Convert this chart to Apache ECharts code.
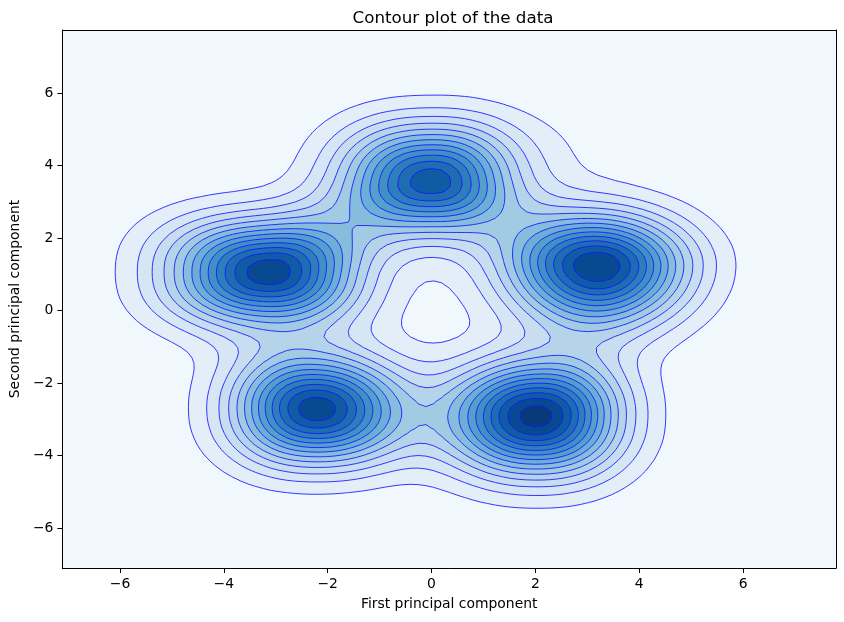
<!DOCTYPE html>
<html>
<head>
<meta charset="utf-8">
<title>Contour plot of the data</title>
<script src="https://cdn.jsdelivr.net/npm/echarts@6/dist/echarts.min.js"></script>
<style>
  html, body { margin: 0; padding: 0; background: #fff; }
  #main { width: 844px; height: 622px; }
</style>
</head>
<body>
<div id="main"></div>
<script>
// density bumps: centre, peak (in contour-level units),
// spread towards -x, +x, -y, +y, and how square the rings are
// order: left, top, right, bottom-left, bottom-right, small top-right shoulder
var clusterX = [-3.17, 0.0, 3.25, -2.25, 2.05, 2.4];
var clusterY = [1.07, 3.62, 1.25, -2.75, -2.95, 4.4];
var clusterPeak = [12.95, 11.95, 13.2, 12.95, 13.85, 0.6];
var spreadLeft = [1.29, 1.17, 1.23, 1.07, 1.12, 1.0];
var spreadRight = [1.2, 1.04, 1.15, 1.12, 1.07, 1.0];
var spreadDown = [0.97, 0.98, 1.12, 1.02, 1.09, 1.0];
var spreadUp = [0.97, 1.04, 0.97, 1.0, 1.02, 1.0];
var squareness = [2.4, 2.3, 2.0, 2.2, 2.2, 2.0];
// faint ring joining the five groups round the empty middle
var ringRadius = 3.0, ringWidth = 0.8, ringHeight = 0.9;

var contourLevels = [1, 2, 3, 4, 5, 6, 7, 8, 9, 10, 11, 12, 13, 14];
var xRange = [-7.11, 7.79];
var yRange = [-7.10, 7.74];
var xTicks = [-6, -4, -2, 0, 2, 4, 6];
var yTicks = [-6, -4, -2, 0, 2, 4, 6];

var FONT = 'DejaVu Sans';

function density(x, y) {
    var r = Math.sqrt(x * x + y * y) - ringRadius;
    var s = ringHeight * Math.exp(-0.5 * r * r / (ringWidth * ringWidth));
    for (var k = 0; k < clusterX.length; k++) {
        var dx = x - clusterX[k], dy = y - clusterY[k];
        var u = Math.abs(dx) / (dx < 0 ? spreadLeft[k] : spreadRight[k]);
        var v = Math.abs(dy) / (dy < 0 ? spreadDown[k] : spreadUp[k]);
        var q = squareness[k];
        var d = Math.pow(Math.pow(u, q) + Math.pow(v, q), 2 / q);
        s += clusterPeak[k] * Math.exp(-0.5 * d);
    }
    return s;
}

// Blues colormap, one colour per band (band k lies between level k and k+1)
var bluesStops = ['#f7fbff', '#deebf7', '#c6dbef', '#9ecae1', '#6baed6', '#4292c6', '#2171b5', '#08519c', '#08306b'];
function blues(t) {
    t = Math.max(0, Math.min(1, t));
    var p = t * (bluesStops.length - 1);
    var i = Math.min(Math.floor(p), bluesStops.length - 2);
    var f = p - i;
    var a = echarts.color.parse(bluesStops[i]), b = echarts.color.parse(bluesStops[i + 1]);
    return 'rgb(' + [0, 1, 2].map(function (c) { return Math.round(a[c] + (b[c] - a[c]) * f); }).join(',') + ')';
}
function bandColor(k) {
    return blues((k + 0.5) / (contourLevels.length + 1));
}

// sample the field
var NX = 101, NY = 101;
var gx = [], gy = [], field = [];
for (var i = 0; i < NX; i++) gx.push(xRange[0] + (xRange[1] - xRange[0]) * i / (NX - 1));
for (var j = 0; j < NY; j++) gy.push(yRange[0] + (yRange[1] - yRange[0]) * j / (NY - 1));
for (j = 0; j < NY; j++) for (i = 0; i < NX; i++) field[j * NX + i] = density(gx[i], gy[j]);

var CASES = {
    1: [[3, 0]], 2: [[0, 1]], 3: [[3, 1]], 4: [[1, 2]], 6: [[0, 2]], 7: [[3, 2]],
    8: [[2, 3]], 9: [[0, 2]], 11: [[1, 2]], 12: [[1, 3]], 13: [[0, 1]], 14: [[3, 0]]
};

// marching squares -> closed loops, high side kept on the left
function traceLevel(L) {
    var pts = {}, adj = {}, high = {};
    function val(i, j) { return field[j * NX + i]; }
    function edgePoint(key, i0, j0, i1, j1) {
        if (!pts[key]) {
            var v0 = val(i0, j0), v1 = val(i1, j1);
            var t = (L - v0) / (v1 - v0);
            pts[key] = [gx[i0] + t * (gx[i1] - gx[i0]), gy[j0] + t * (gy[j1] - gy[j0])];
            high[key] = v0 >= L ? [gx[i0], gy[j0]] : [gx[i1], gy[j1]];
        }
        return key;
    }
    function link(a, b) {
        (adj[a] = adj[a] || []).push(b);
        (adj[b] = adj[b] || []).push(a);
    }
    for (var j = 0; j < NY - 1; j++) {
        for (var i = 0; i < NX - 1; i++) {
            var v0 = val(i, j), v1 = val(i + 1, j), v2 = val(i + 1, j + 1), v3 = val(i, j + 1);
            var c = (v0 >= L ? 1 : 0) | (v1 >= L ? 2 : 0) | (v2 >= L ? 4 : 0) | (v3 >= L ? 8 : 0);
            if (c === 0 || c === 15) continue;
            var pairs;
            var centre = (v0 + v1 + v2 + v3) / 4 >= L;
            if (c === 5) pairs = centre ? [[0, 1], [2, 3]] : [[3, 0], [1, 2]];
            else if (c === 10) pairs = centre ? [[3, 0], [1, 2]] : [[0, 1], [2, 3]];
            else pairs = CASES[c];
            pairs.forEach(function (p) {
                var k2 = p.map(function (e) {
                    if (e === 0) return edgePoint('h' + i + '_' + j, i, j, i + 1, j);
                    if (e === 1) return edgePoint('v' + (i + 1) + '_' + j, i + 1, j, i + 1, j + 1);
                    if (e === 2) return edgePoint('h' + i + '_' + (j + 1), i, j + 1, i + 1, j + 1);
                    return edgePoint('v' + i + '_' + j, i, j, i, j + 1);
                });
                link(k2[0], k2[1]);
            });
        }
    }
    var visited = {}, loops = [];
    Object.keys(adj).forEach(function (start) {
        if (visited[start]) return;
        visited[start] = true;
        var loop = [start], prev = null, cur = start;
        while (true) {
            var nb = adj[cur];
            var next = nb[0] === prev ? nb[1] : nb[0];
            if (next === undefined || next === start || visited[next]) break;
            visited[next] = true;
            loop.push(next);
            prev = cur;
            cur = next;
        }
        if (loop.length < 3) return;
        var p0 = pts[loop[0]], p1 = pts[loop[1]], h = high[loop[0]];
        var cross = (p1[0] - p0[0]) * (h[1] - p0[1]) - (p1[1] - p0[1]) * (h[0] - p0[0]);
        var coords = loop.map(function (k) { return pts[k]; });
        if (cross < 0) coords.reverse();
        loops.push(coords);
    });
    return loops;
}

var levelLoops = contourLevels.map(traceLevel);
var bands = [0].concat(contourLevels.map(function (l, i) { return i + 1; }));

function renderBand(params, api) {
    var k = api.value(0);
    var color = bandColor(k);
    if (k === 0) {
        var a = api.coord([xRange[0], yRange[1]]), b = api.coord([xRange[1], yRange[0]]);
        return { type: 'rect', shape: { x: a[0], y: a[1], width: b[0] - a[0], height: b[1] - a[1] }, style: { fill: color } };
    }
    var d = '';
    levelLoops[k - 1].forEach(function (loop) {
        loop.forEach(function (pt, n) {
            var c = api.coord(pt);
            d += (n ? 'L' : 'M') + c[0].toFixed(2) + ' ' + c[1].toFixed(2);
        });
        d += 'Z';
    });
    if (!d) return null;
    return {
        type: 'path',
        shape: { pathData: d },
        style: { fill: color, stroke: '#1515ff', lineWidth: 0.85 }
    };
}

function tickText(v) {
    return v < 0 ? '\u2212' + Math.abs(v) : String(v);
}

var labelStyle = { color: '#000', fontSize: 13.9, fontFamily: FONT };
var frameLine = { show: true, onZero: false, lineStyle: { color: '#000', width: 1 } };

var chart = echarts.init(document.getElementById('main'), null, { renderer: 'canvas' });
chart.setOption({
    animation: false,
    backgroundColor: '#fff',
    title: {
        text: 'Contour plot of the data',
        left: 448, top: 5, textAlign: 'center',
        textStyle: { fontSize: 16.7, fontWeight: 'normal', color: '#000', fontFamily: FONT }
    },
    grid: { left: 60, top: 30, width: 776, height: 538 },
    xAxis: [{
        type: 'value', min: xRange[0], max: xRange[1], position: 'bottom', z: 10,
        axisLine: frameLine,
        axisTick: { show: true, length: 5, customValues: xTicks, lineStyle: { color: '#000', width: 1 } },
        axisLabel: Object.assign({ customValues: xTicks, formatter: tickText, margin: 9 }, labelStyle),
        splitLine: { show: false },
        name: 'First principal component', nameLocation: 'middle', nameGap: 29,
        nameTextStyle: labelStyle
    }, {
        type: 'value', min: xRange[0], max: xRange[1], position: 'top', z: 10,
        axisLine: frameLine, axisTick: { show: false }, axisLabel: { show: false }, splitLine: { show: false }
    }],
    yAxis: [{
        type: 'value', min: yRange[0], max: yRange[1], position: 'left', z: 10,
        axisLine: frameLine,
        axisTick: { show: true, length: 5, customValues: yTicks, lineStyle: { color: '#000', width: 1 } },
        axisLabel: Object.assign({ customValues: yTicks, formatter: tickText, margin: 9 }, labelStyle),
        splitLine: { show: false },
        name: 'Second principal component', nameLocation: 'middle', nameGap: 37, nameRotate: 90,
        nameTextStyle: labelStyle
    }, {
        type: 'value', min: yRange[0], max: yRange[1], position: 'right', z: 10,
        axisLine: frameLine, axisTick: { show: false }, axisLabel: { show: false }, splitLine: { show: false }
    }],
    series: [{
        type: 'custom',
        xAxisIndex: 0, yAxisIndex: 0,
        silent: true,
        clip: true,
        renderItem: renderBand,
        data: bands.map(function (b) { return [b]; }),
        encode: { x: -1, y: -1 }
    }]
});
</script>
</body>
</html>
